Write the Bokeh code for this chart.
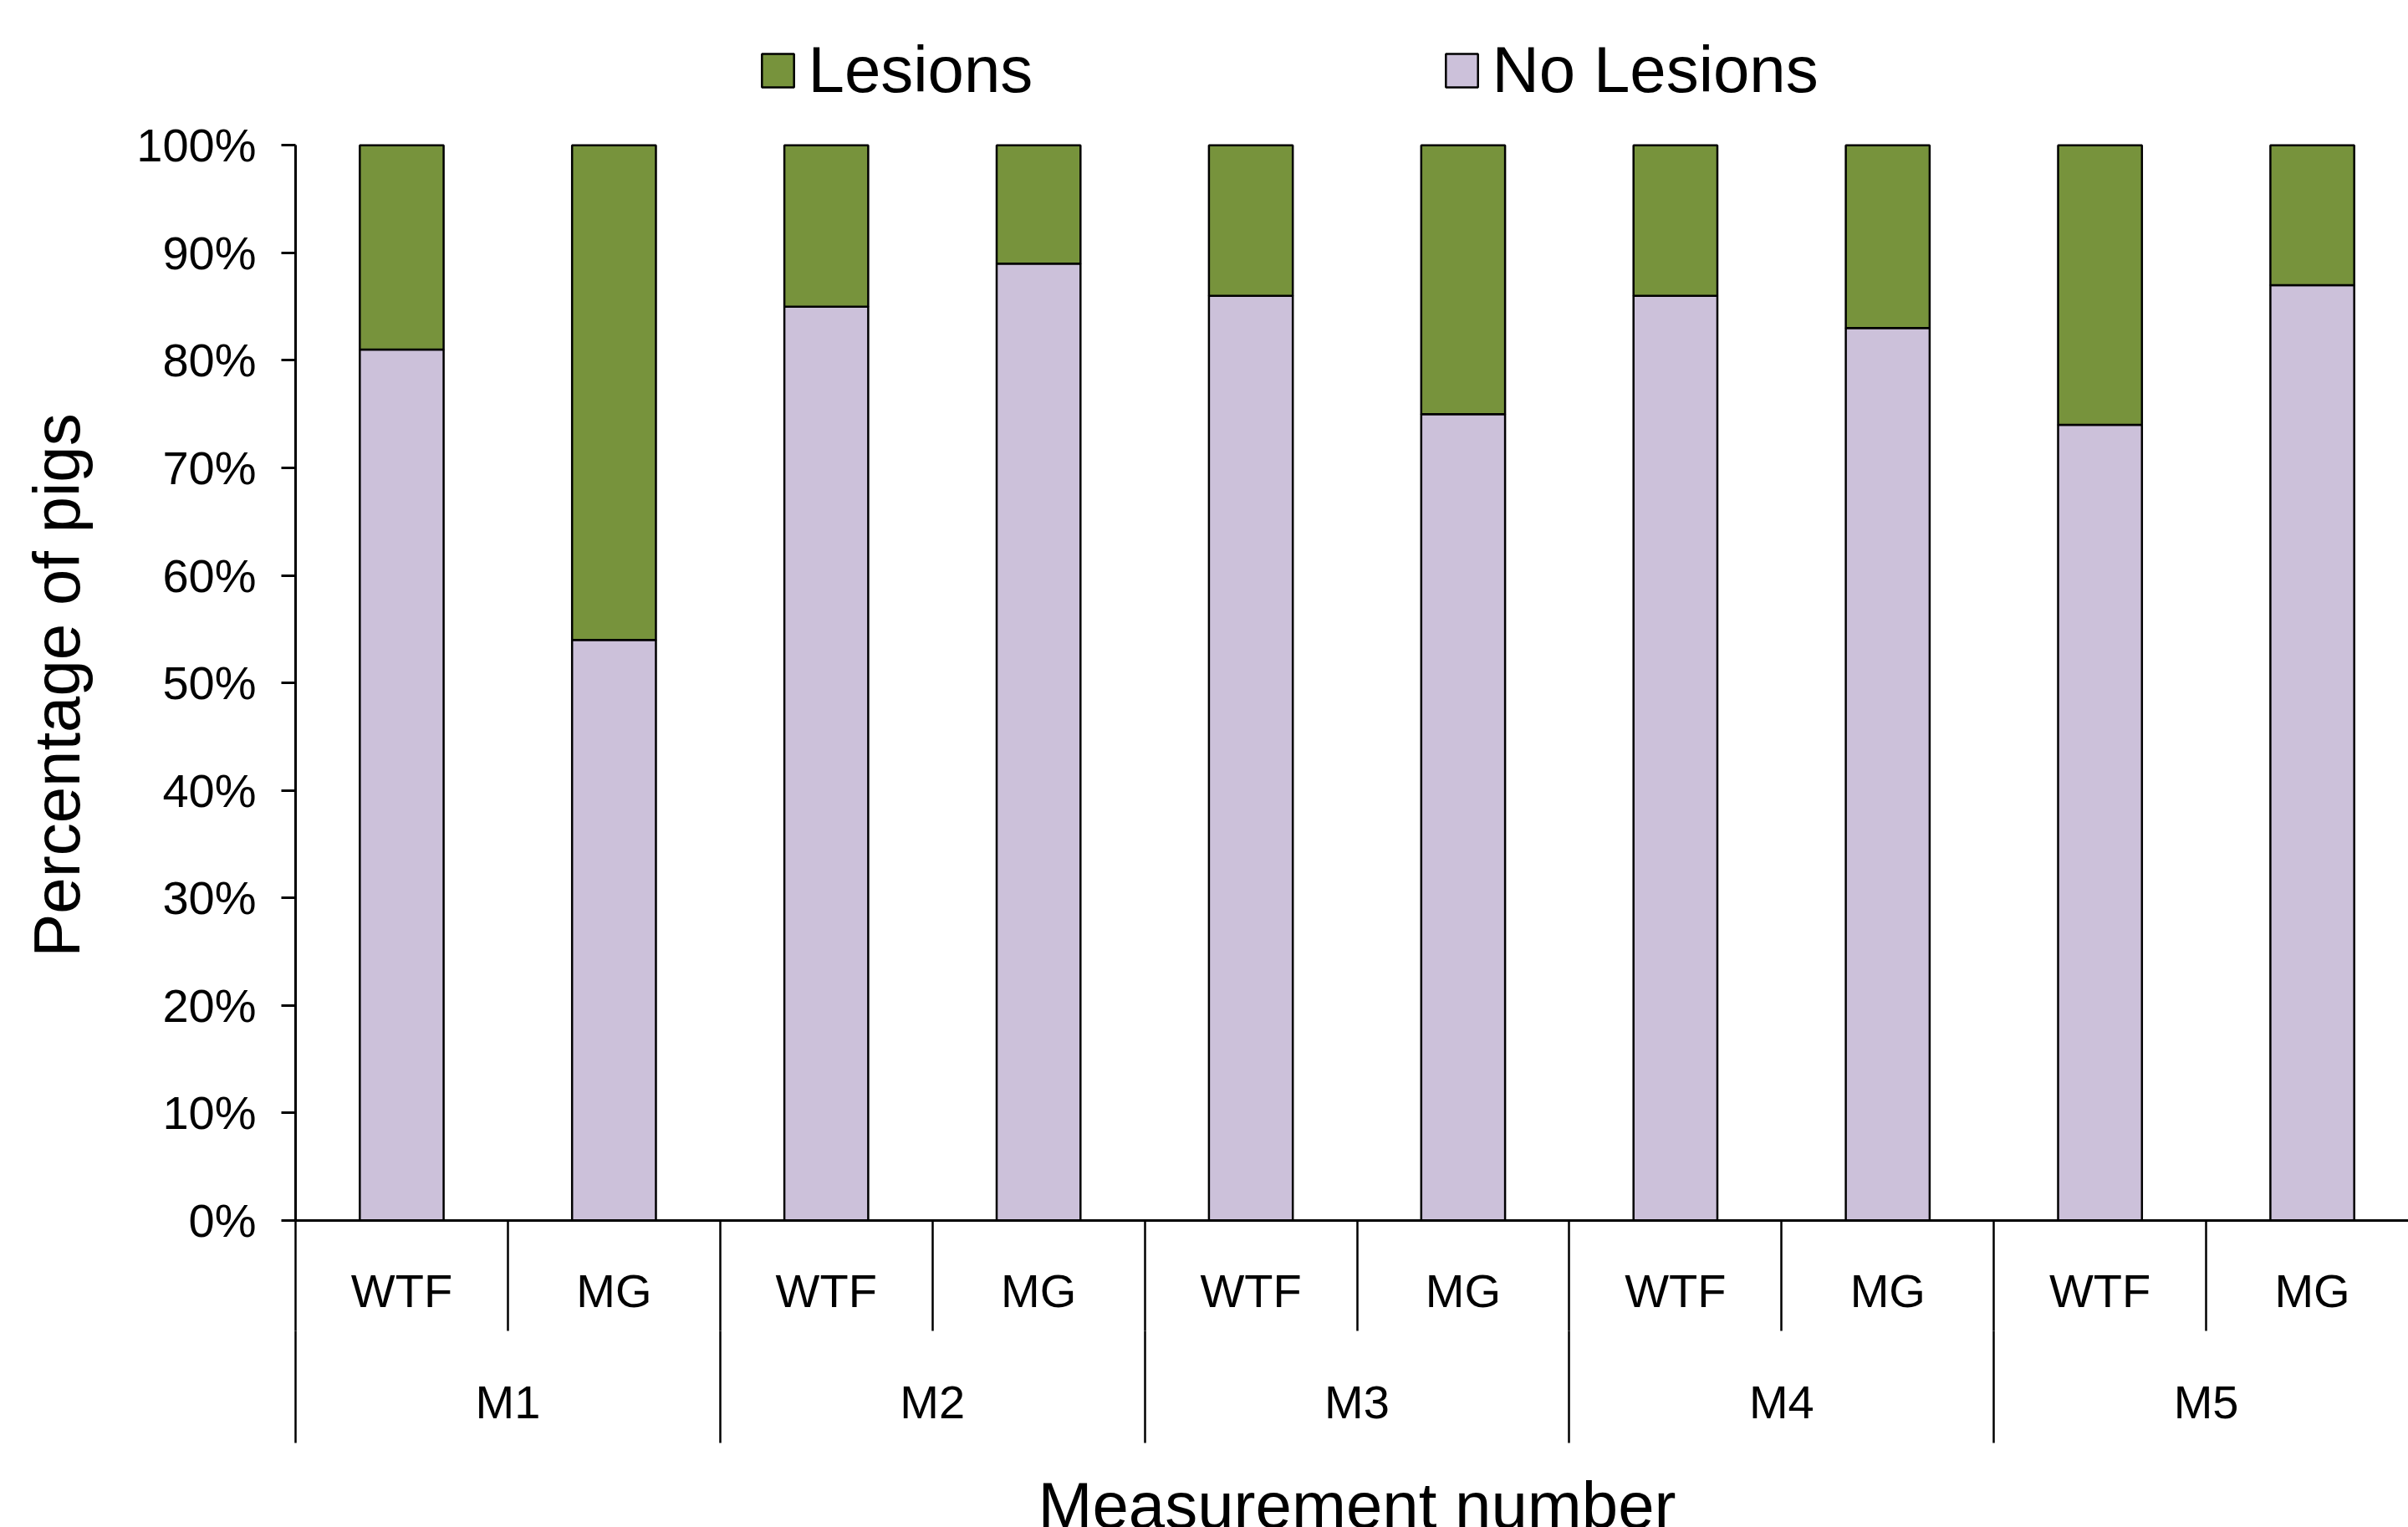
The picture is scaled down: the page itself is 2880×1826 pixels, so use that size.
import math
from bokeh.plotting import figure
from bokeh.models import (Range1d, LinearAxis, FixedTicker, PrintfTickFormatter,
                          Legend, LegendItem, Label, ColumnDataSource)
from bokeh.embed import file_html
from bokeh.resources import INLINE

# Share of pigs with / without lesions per measurement and treatment group
measurements = ["M1", "M2", "M3", "M4", "M5"]
treatments = ["WTF", "MG"]
no_lesions = [81, 54, 85, 89, 86, 75, 86, 83, 74, 87]
lesions = [19, 46, 15, 11, 14, 25, 14, 17, 26, 13]
y_ticks = [0, 10, 20, 30, 40, 50, 60, 70, 80, 90, 100]

FONT = "Liberation Sans"
GREEN = "#77933C"
LILAC = "#CCC1DA"

# canvas geometry (pixels)
W, H = 2880, 1826
AXIS_X = 353          # screen x of the value axis
AXIS_Y = 1459         # screen y of the category axis (0 %)
SLOT = 253.9          # pixels per bar slot
PX_Y = 12.857         # pixels per percentage point

def sx_to_data(sx):
    return (sx - AXIS_X) / SLOT

def sy_to_data(sy):
    return (AXIS_Y - sy) / PX_Y

n_bars = len(no_lesions)
slots = [i + 0.5 for i in range(n_bars)]
bar_labels = [t for m in measurements for t in treatments]
group_centers = [2 * i + 1 for i in range(len(measurements))]

source = ColumnDataSource(dict(x=slots, no_lesions=no_lesions, lesions=lesions))

# the frame covers the whole canvas; axes sit at fixed data locations
p = figure(width=W, height=H, output_backend="svg", toolbar_location=None,
           x_range=Range1d(sx_to_data(0), sx_to_data(W)),
           y_range=Range1d(sy_to_data(H), sy_to_data(0)),
           x_axis_type=None, y_axis_type=None,
           min_border_left=0, min_border_right=0,
           min_border_top=0, min_border_bottom=0)
p.grid.visible = False
p.outline_line_color = None
p.background_fill_color = "white"
p.border_fill_color = "white"

bars = p.vbar_stack(["no_lesions", "lesions"], x="x", width=0.395, source=source,
                    fill_color=[LILAC, GREEN], line_color="black", line_width=2.5)

# value axis
yax = LinearAxis(fixed_location=0, ticker=FixedTicker(ticks=y_ticks),
                 formatter=PrintfTickFormatter(format="%d%%"), bounds=(0, 100))
yax.axis_line_width = 3
yax.major_tick_out = 17
yax.major_tick_in = 0
yax.major_tick_line_width = 3
yax.minor_tick_out = 0
yax.minor_tick_in = 0
yax.major_label_text_font = FONT
yax.major_label_text_font_size = "56px"
yax.major_label_text_color = "black"
yax.major_label_standoff = 30
p.add_layout(yax, "left")

# inner category axis at 0 %: treatment labels, separators at every bar boundary
SHORT_SEP = 132
ax_treat = LinearAxis(
    fixed_location=0, bounds=(0, sx_to_data(W)),
    ticker=FixedTicker(ticks=slots, minor_ticks=list(range(n_bars + 1))),
    major_label_overrides={s: lab for s, lab in zip(slots, bar_labels)})
ax_treat.axis_line_width = 3
ax_treat.major_tick_out = 0
ax_treat.major_tick_in = 0
ax_treat.minor_tick_out = SHORT_SEP
ax_treat.minor_tick_in = 0
ax_treat.minor_tick_line_width = 2.5
ax_treat.major_label_text_font = FONT
ax_treat.major_label_text_font_size = "56px"
ax_treat.major_label_text_color = "black"
ax_treat.major_label_standoff = 52 - SHORT_SEP
p.add_layout(ax_treat, "below")

# outer category axis: measurement labels, separators continue between groups
LONG_SEP = 134
ax_meas = LinearAxis(
    fixed_location=sy_to_data(AXIS_Y + SHORT_SEP),
    ticker=FixedTicker(ticks=group_centers, minor_ticks=list(range(0, n_bars + 1, 2))),
    major_label_overrides={c: m for c, m in zip(group_centers, measurements)})
ax_meas.axis_line_color = None
ax_meas.major_tick_out = 0
ax_meas.major_tick_in = 0
ax_meas.minor_tick_out = LONG_SEP
ax_meas.minor_tick_in = 0
ax_meas.minor_tick_line_width = 2.5
ax_meas.major_label_text_font = FONT
ax_meas.major_label_text_font_size = "56px"
ax_meas.major_label_text_color = "black"
ax_meas.major_label_standoff = 53 - LONG_SEP
p.add_layout(ax_meas, "below")

# axis titles
p.add_layout(Label(x=n_bars / 2, y=sy_to_data(1755),
                   text="Measurement number", text_align="center",
                   text_baseline="top", text_font=FONT,
                   text_font_size="78px", text_color="black"))
p.add_layout(Label(x=sx_to_data(23), y=sy_to_data(819), angle=math.pi / 2,
                   text="Percentage of pigs", text_align="center",
                   text_baseline="top", text_font=FONT,
                   text_font_size="78px", text_color="black"))

# legend swatches are drawn inset by 10 % of the glyph box
GLYPH_W, GLYPH_H = 48, 50

def make_legend(label, renderer, swatch_center_x):
    return Legend(items=[LegendItem(label=label, renderers=[renderer])],
                  location=(swatch_center_x - GLYPH_W / 2, H - 129),
                  orientation="horizontal",
                  glyph_width=GLYPH_W, glyph_height=GLYPH_H, label_standoff=13,
                  label_text_font=FONT, label_text_font_size="78px",
                  label_text_color="black",
                  padding=0, margin=0, spacing=0,
                  border_line_color=None, background_fill_alpha=0)

p.add_layout(make_legend("Lesions", bars[1], 929.5))
p.add_layout(make_legend("No Lesions", bars[0], 1747.5))

open("out.html", "w").write(file_html(p, INLINE))
